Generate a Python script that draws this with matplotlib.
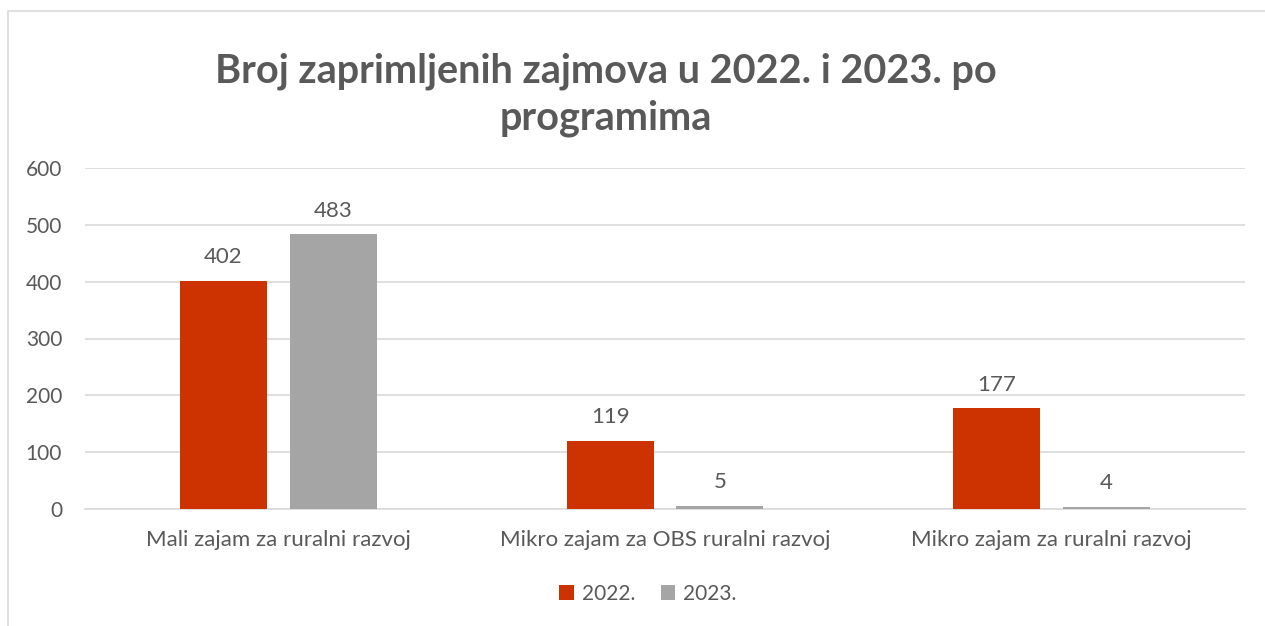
import numpy as np
import matplotlib.pyplot as plt
from matplotlib.patches import Rectangle

categories = ['Mali zajam za ruralni razvoj', 'Mikro zajam za OBS ruralni razvoj', 'Mikro zajam za ruralni razvoj']
years = ['2022.', '2023.']
values_2022 = [402, 119, 177]
values_2023 = [483, 5, 4]
yticks = [0, 100, 200, 300, 400, 500, 600]

red = '#CC3300'
grey = '#A5A5A5'
text_col = '#595959'

plt.rcParams['font.family'] = ['Lato', 'DejaVu Sans']

fig = plt.figure(figsize=(12.65, 6.26), dpi=100)
# chart frame (only top and left edges are visible in the crop)
fig.patches.append(Rectangle((8 / 1265, -0.1), 1.2, 1 - 11 / 626 + 0.1, transform=fig.transFigure,
                             fill=False, edgecolor='#d9d9d9', linewidth=1.2))

ax = fig.add_axes([85 / 1265, 1 - 509 / 626, 1160 / 1265, 341 / 626])
x = np.arange(len(categories))
w = 0.225
off = 0.142
b1 = ax.bar(x - off, values_2022, w, color=red, label=years[0], zorder=3)
b2 = ax.bar(x + off, values_2023, w, color=grey, label=years[1], zorder=3)

for bars in (b1, b2):
    for b in bars:
        ax.annotate(str(int(b.get_height())), (b.get_x() + b.get_width() / 2, b.get_height()),
                    xytext=(0, 10), textcoords='offset points', ha='center', va='bottom',
                    fontsize=16, color=text_col)

ax.set_xlim(-0.5, 2.5)
ax.set_ylim(0, 600)
ax.set_yticks(yticks)
ax.set_xticks(x)
ax.set_xticklabels(categories, fontsize=16)
ax.grid(axis='y', color='#d9d9d9', linewidth=1.2, zorder=0)
for s in ['top', 'right', 'left']:
    ax.spines[s].set_visible(False)
ax.spines['bottom'].set_color('#d9d9d9')
ax.spines['bottom'].set_linewidth(1.2)
ax.tick_params(length=0, labelcolor=text_col)
ax.tick_params(axis='x', pad=15)
ax.tick_params(axis='y', pad=16.5, labelsize=15)

fig.text(606 / 1265, 1 - 95 / 626, 'Broj zaprimljenih zajmova u 2022. i 2023. po\nprogramima',
         ha='center', va='center', fontsize=28.5, fontweight='bold', color=text_col, linespacing=1.3)

fig.legend(loc='center', bbox_to_anchor=(648 / 1265, 1 - 594 / 626), ncol=2, frameon=False,
           fontsize=15, labelcolor=text_col, handlelength=0.7, handleheight=0.7,
           handletextpad=0.4, columnspacing=1.2)

fig.savefig('out.png', dpi=100, facecolor='white')
